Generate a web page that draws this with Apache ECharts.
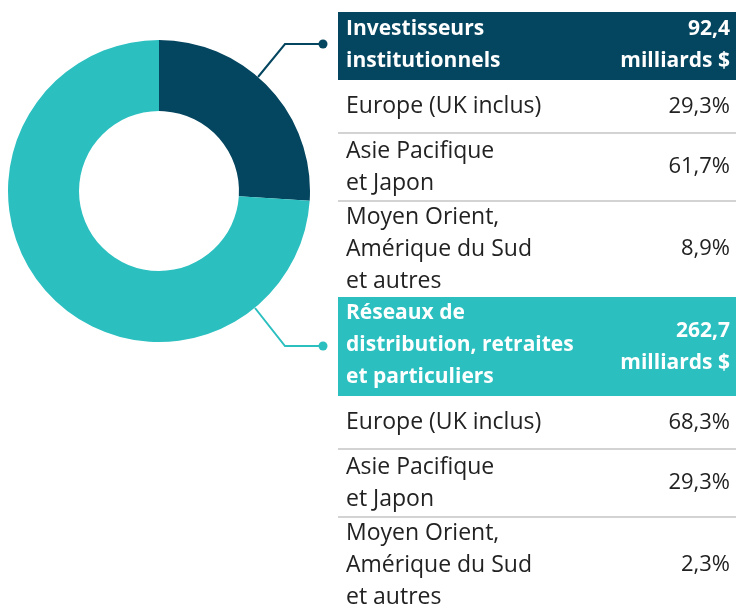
<!DOCTYPE html>
<html>
<head>
<meta charset="utf-8">
<script src="https://cdn.jsdelivr.net/npm/echarts@6/dist/echarts.min.js"></script>
<style>
  html, body { margin: 0; padding: 0; background: #fff; }
  #chart { width: 736px; height: 611px; }
</style>
</head>
<body>
<div id="chart"></div>
<script>
// data
const groupNames = ['Investisseurs\ninstitutionnels', 'Réseaux de\ndistribution, retraites\net particuliers']
const groupTotals = [92.4, 262.7]
const regionNames = ['Europe (UK inclus)', 'Asie Pacifique\net Japon', 'Moyen Orient,\nAmérique du Sud\net autres']
const institShares = [29.3, 61.7, 8.9]
const retailShares = [68.3, 29.3, 2.3]

const colors = ['#04455f', '#2bbfc0']
const FONT = '"Open Sans", sans-serif'

const fmt = (v) => v.toFixed(1).replace('.', ',')

const chart = echarts.init(document.getElementById('chart'))

// table layout
const tableX = 338
const tableRight = 736
const valueX = 730
const heightByLines = { 1: 53, 2: 68, 3: 96 }
const graphics = []
let y = 12

const groupShares = [institShares, retailShares]
groupNames.forEach((g, gi) => {
  const gh = gi === 0 ? 68 : 99
  graphics.push({
    type: 'rect',
    shape: { x: tableX, y: y, width: tableRight - tableX, height: gh },
    style: { fill: colors[gi] }
  })
  graphics.push({
    type: 'text',
    style: {
      text: g, x: tableX + 8, y: y + gh / 2 - 1,
      fill: '#fff', fontFamily: FONT, fontWeight: 'bold', fontSize: 21,
      lineHeight: 32, align: 'left', verticalAlign: 'middle'
    }
  })
  graphics.push({
    type: 'text',
    style: {
      text: fmt(groupTotals[gi]) + '\nmilliards $', x: valueX, y: y + gh / 2 - 1 + (gi === 1 ? 2 : 0),
      fill: '#fff', fontFamily: FONT, fontWeight: 'bold', fontSize: 21,
      lineHeight: 32, align: 'right', verticalAlign: 'middle'
    }
  })
  y += gh
  regionNames.forEach((r, ri) => {
    const lines = r.split('\n').length
    const h = heightByLines[lines]
    if (ri > 0) {
      graphics.push({
        type: 'line',
        shape: { x1: tableX, y1: y, x2: tableRight, y2: y },
        style: { stroke: '#c4c4c4', lineWidth: 1.5 }
      })
    }
    graphics.push({
      type: 'text',
      style: {
        text: r, x: tableX + 8, y: y + h / 2,
        fill: '#222', fontFamily: FONT, fontSize: 23,
        lineHeight: 32, align: 'left', verticalAlign: 'middle'
      }
    })
    graphics.push({
      type: 'text',
      style: {
        text: fmt(groupShares[gi][ri]) + '%', x: valueX, y: y + h / 2,
        fill: '#222', fontFamily: FONT, fontSize: 22,
        align: 'right', verticalAlign: 'middle'
      }
    })
    y += h
  })
})

// connectors from the ring to the table headers
const connectors = [
  { pts: [[258, 77], [285, 44], [323, 44]], color: colors[0] },
  { pts: [[255, 308], [285, 346], [323, 346]], color: colors[1] }
]
connectors.forEach(c => {
  graphics.push({
    type: 'polyline',
    shape: { points: c.pts },
    style: { stroke: c.color, lineWidth: 2, fill: null },
    z: 10
  })
  const end = c.pts[c.pts.length - 1]
  graphics.push({
    type: 'circle',
    shape: { cx: end[0], cy: end[1], r: 4.5 },
    style: { fill: c.color },
    z: 10
  })
})

const option = {
  animation: false,
  color: colors,
  series: [
    {
      type: 'pie',
      center: [159, 191],
      radius: [80, 151],
      startAngle: 90,
      clockwise: true,
      label: { show: false },
      labelLine: { show: false },
      itemStyle: { borderWidth: 0 },
      emphasis: { disabled: true },
      data: groupNames.map((n, i) => ({ name: n, value: groupTotals[i] }))
    }
  ],
  graphic: graphics
}

chart.setOption(option)
</script>
</body>
</html>
